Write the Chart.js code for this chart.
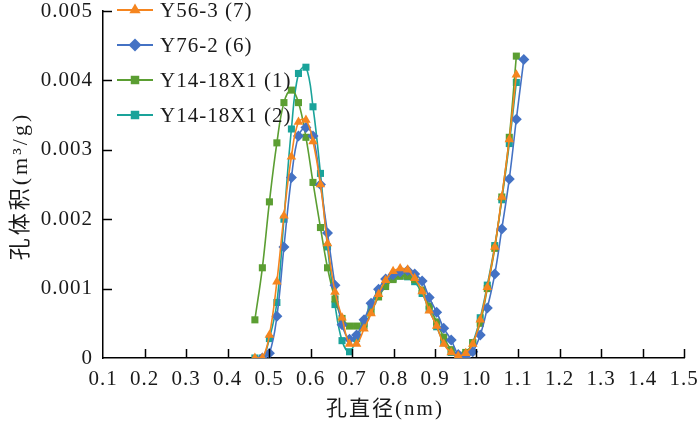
<!DOCTYPE html>
<html>
<head>
<meta charset="utf-8">
<script src="https://cdn.jsdelivr.net/npm/chart.js@4.4.1/dist/chart.umd.min.js"></script>
<style>
  html, body { margin: 0; padding: 0; background: #fff; }
  #wrap { width: 700px; height: 424px; }
</style>
</head>
<body>
<div id="wrap"><canvas id="poreChart"></canvas></div>
<script>
// 孔直径 (nm)
const xMain = [0.466, 0.484, 0.501, 0.519, 0.536, 0.554, 0.571, 0.589, 0.606, 0.624,
  0.641, 0.659, 0.676, 0.694, 0.711, 0.729, 0.746, 0.764, 0.781, 0.799,
  0.816, 0.834, 0.851, 0.869, 0.886, 0.904, 0.921, 0.939, 0.956, 0.974,
  0.991, 1.009, 1.026, 1.044, 1.061, 1.079, 1.096];
const xBlue = [0.484, 0.501, 0.519, 0.536, 0.554, 0.571, 0.589, 0.606, 0.624,
  0.641, 0.659, 0.676, 0.694, 0.711, 0.729, 0.746, 0.764, 0.781, 0.799,
  0.816, 0.834, 0.851, 0.869, 0.886, 0.904, 0.921, 0.939, 0.956, 0.974,
  0.991, 1.009, 1.026, 1.044, 1.061, 1.079, 1.096, 1.114];

// 孔体积 (m3/g)
const vY56_3 = [0, 0, 0.00033, 0.0011, 0.00205, 0.0029, 0.0034, 0.00343, 0.00312, 0.0025,
  0.00165, 0.00095, 0.00058, 0.0002, 0.0002, 0.00042, 0.00064, 0.00092, 0.00112, 0.00125,
  0.00129, 0.00127, 0.00115, 0.00096, 0.00068, 0.00046, 0.0002, 0.00008, 0.00003, 0.00007,
  0.0002, 0.00055, 0.00102, 0.0016, 0.00232, 0.00315, 0.00408];
const vY76_2 = [0, 0.00007, 0.0006, 0.0016, 0.0026, 0.0032, 0.00332, 0.0032, 0.0025,
  0.0018, 0.00105, 0.00048, 0.00027, 0.00033, 0.00055, 0.00079, 0.00099, 0.00114, 0.0012,
  0.00124, 0.00126, 0.00121, 0.00111, 0.00087, 0.00066, 0.00043, 0.00026, 0.00005, 0,
  0.00009, 0.00033, 0.00072, 0.00121, 0.00186, 0.00258, 0.00344, 0.0043];
const vY14_1 = [0.00055, 0.0013, 0.00225, 0.0031, 0.00368, 0.00386, 0.00368, 0.00318, 0.00253, 0.00188,
  0.0013, 0.00085, 0.00057, 0.00046, 0.00046, 0.00047, 0.00066, 0.00088, 0.00103, 0.00113,
  0.00118, 0.00118, 0.00113, 0.00098, 0.00075, 0.00052, 0.0003, 0.00012, 0.00004, 0.00008,
  0.00022, 0.0005, 0.001, 0.00158, 0.00232, 0.00318, 0.00435];
const vY14_2 = [0, 0, 0.00028, 0.0008, 0.002, 0.0033, 0.0041, 0.00419, 0.00362, 0.00266,
  0.0016, 0.00077, 0.00025, 0.00009, 0.00028, 0.0005, 0.00075, 0.00095, 0.00108, 0.00115,
  0.00118, 0.00117, 0.0011, 0.00093, 0.0007, 0.00045, 0.00022, 0.00008, 0.00002, 0.00005,
  0.00022, 0.00058, 0.00105, 0.00162, 0.00228, 0.00309, 0.00397];

const seriesNames = ["Y56-3 (7)", "Y76-2 (6)", "Y14-18X1 (1)", "Y14-18X1 (2)"];
const seriesColors = ["#F5851F", "#4472C4", "#5B9E32", "#1AA39A"];
const seriesMarkers = ["triangle", "rectRot", "rect", "rect"];
const seriesX = [xMain, xBlue, xMain, xMain];
const seriesY = [vY56_3, vY76_2, vY14_1, vY14_2];

const xTitle = "孔直径(nm)";
const yTitle = "孔体积(m³/g)";

const SERIF = "'Liberation Serif', 'Noto Sans CJK SC', serif";

function toPoints(xs, ys) {
  return xs.map((x, i) => ({ x, y: ys[i] }));
}

const datasets = seriesNames.map((name, i) => ({
  label: name,
  data: toPoints(seriesX[i], seriesY[i]),
  borderColor: seriesColors[i],
  backgroundColor: seriesColors[i],
  borderWidth: 1.6,
  pointStyle: seriesMarkers[i],
  pointRadius: seriesMarkers[i] === "rect" ? 5 : 5.5,
  pointBorderWidth: 0,
  tension: 0.4,
  showLine: true,
}));

function drawMarker(ctx, style, x, y, r) {
  ctx.beginPath();
  if (style === "triangle") {
    ctx.moveTo(x, y - r);
    ctx.lineTo(x + r * 0.866, y + r * 0.5);
    ctx.lineTo(x - r * 0.866, y + r * 0.5);
  } else if (style === "rectRot") {
    ctx.moveTo(x, y - r);
    ctx.lineTo(x + r, y);
    ctx.lineTo(x, y + r);
    ctx.lineTo(x - r, y);
  } else {
    const s = r * Math.SQRT1_2;
    ctx.rect(x - s, y - s, 2 * s, 2 * s);
  }
  ctx.closePath();
  ctx.fill();
}

// letter spacing to mimic the wide serif text
const spacing = {
  id: "spacing",
  beforeLayout(chart) { chart.ctx.letterSpacing = "1px"; },
  beforeDraw(chart) { chart.ctx.letterSpacing = "1px"; },
};

// tick marks pointing into the plot, axis titles and the legend inside the plot
const decorations = {
  id: "decorations",
  afterDraw(chart) {
    const { ctx, chartArea, scales } = chart;
    ctx.save();
    ctx.strokeStyle = "#000";
    ctx.lineWidth = 1.5;
    ctx.beginPath();
    scales.x.ticks.forEach((t, i) => {
      if (i === 0) return;
      const px = Math.round(scales.x.getPixelForValue(t.value)) + 0.5;
      ctx.moveTo(px, chartArea.bottom);
      ctx.lineTo(px, chartArea.bottom - 9);
    });
    scales.y.ticks.forEach((t, i) => {
      if (i === 0) return;
      const py = Math.round(scales.y.getPixelForValue(t.value)) + 0.5;
      ctx.moveTo(chartArea.left, py);
      ctx.lineTo(chartArea.left + 9, py);
    });
    ctx.stroke();

    // axis titles
    ctx.fillStyle = "#1a1a1a";
    ctx.textAlign = "center";
    ctx.textBaseline = "middle";
    ctx.letterSpacing = "2px";
    ctx.font = "21px " + SERIF;
    ctx.fillText(xTitle, 385, 409);
    ctx.save();
    ctx.translate(21, 186);
    ctx.rotate(-Math.PI / 2);
    ctx.letterSpacing = "3px";
    ctx.font = "22px " + SERIF;
    ctx.fillText(yTitle, 0, 0);
    ctx.restore();

    // legend
    ctx.letterSpacing = "1px";
    ctx.font = "21px " + SERIF;
    ctx.textBaseline = "middle";
    ctx.textAlign = "left";
    seriesNames.forEach((name, i) => {
      const y = 10 + i * 35;
      ctx.strokeStyle = seriesColors[i];
      ctx.fillStyle = seriesColors[i];
      ctx.lineWidth = 2;
      ctx.beginPath();
      ctx.moveTo(117, y);
      ctx.lineTo(153, y);
      ctx.stroke();
      drawMarker(ctx, seriesMarkers[i], 135, y, seriesMarkers[i] === "rect" ? 6 : 6.5);
      ctx.fillStyle = "#1a1a1a";
      ctx.fillText(name, 160, y + 1);
    });
    ctx.restore();
  },
};

new Chart(document.getElementById("poreChart").getContext("2d"), {
  type: "scatter",
  data: { datasets },
  plugins: [spacing, decorations],
  options: {
    responsive: true,
    maintainAspectRatio: false,
    devicePixelRatio: 1,
    animation: false,
    layout: { padding: { top: 11, right: 16, left: 0, bottom: 0 } },
    plugins: {
      legend: { display: false },
      tooltip: { enabled: false },
    },
    scales: {
      x: {
        type: "linear",
        min: 0.1,
        max: 1.5,
        ticks: {
          stepSize: 0.1,
          padding: 11,
          color: "#1a1a1a",
          font: { family: SERIF, size: 21, lineHeight: 1 },
          maxRotation: 0,
        },
        grid: { display: false, drawTicks: false },
        border: { display: true, color: "#000", width: 1.5 },
        afterFit: (scale) => {
          scale.height = 66;
          scale.paddingRight = 0;
          scale.paddingLeft = 0;
        },
      },
      y: {
        min: 0,
        max: 0.005,
        ticks: {
          stepSize: 0.001,
          padding: 10,
          color: "#1a1a1a",
          font: { family: SERIF, size: 21, lineHeight: 1 },
        },
        grid: { display: false, drawTicks: false },
        border: { display: true, color: "#000", width: 1.5 },
        afterFit: (scale) => {
          scale.width = 103;
          scale.paddingTop = 0;
          scale.paddingBottom = 0;
        },
      },
    },
  },
});
</script>
</body>
</html>
